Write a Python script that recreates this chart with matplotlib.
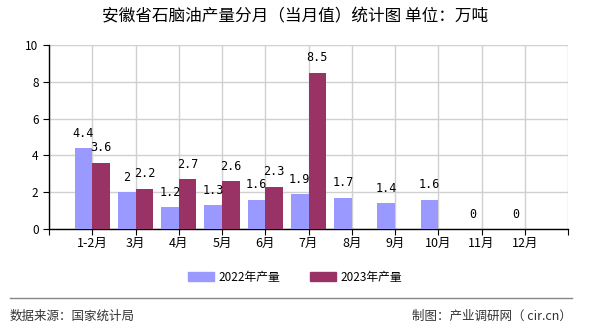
import numpy as np
import matplotlib.pyplot as plt
import matplotlib.patches as mpatches
from matplotlib.lines import Line2D

plt.rcParams['font.family'] = ['Noto Sans CJK SC', 'DejaVu Sans']

months = ['1-2月', '3月', '4月', '5月', '6月', '7月', '8月', '9月', '10月', '11月', '12月']
y2022 = [4.4, 2, 1.2, 1.3, 1.6, 1.9, 1.7, 1.4, 1.6, 0, 0]
y2023 = [3.6, 2.2, 2.7, 2.6, 2.3, 8.5, None, None, None, None, None]

fig = plt.figure(figsize=(5.9, 3.3), dpi=100)
ax = fig.add_axes([49/590, 1-229/330, (568-49)/590, (229-45)/330])

x = np.arange(1, len(months)+1)
w = 0.41
c22 = '#9999ff'
c23 = '#993366'

for xi, v in zip(x, y2022):
    ax.bar(xi - w/2, v, w, color=c22, zorder=3)
    ax.text(xi - w/2, v + 0.45, f'{v:g}', ha='center', va='bottom', fontsize=8.5,
            family='DejaVu Sans Mono', zorder=4)
for xi, v in zip(x, y2023):
    if v is None:
        continue
    ax.bar(xi + w/2, v, w, color=c23, zorder=3)
    ax.text(xi + w/2, v + 0.45, f'{v:g}', ha='center', va='bottom', fontsize=8.5,
            family='DejaVu Sans Mono', zorder=4)

ax.set_xlim(0, 12)
ax.set_ylim(0, 10)
ax.set_yticks(range(0, 11, 2))
ax.set_xticks(range(0, 13))
ax.set_xticklabels([''] + months + [''], fontsize=9)
ax.tick_params(axis='y', labelsize=8.5, length=4, width=0.8)
ax.tick_params(axis='x', length=4, width=0.8, pad=2)
ax.grid(True, color='#d0d0d0', linewidth=1, zorder=0)
for s in ['top', 'right']:
    ax.spines[s].set_visible(False)
ax.spines['left'].set_linewidth(1)
ax.spines['bottom'].set_linewidth(1)

# 标题
fig.text(0.5, 1-17/330, '安徽省石脑油产量分月（当月值）统计图 单位：万吨', ha='center', va='center',
         fontsize=12)

handles = [mpatches.Patch(color=c22), mpatches.Patch(color=c23)]
fig.legend(handles, ['2022年产量', '2023年产量'], loc='center', bbox_to_anchor=(0.5, 1-277/330),
           ncol=2, frameon=False, fontsize=8.5, handlelength=2.2, handleheight=0.7,
           columnspacing=2.5, handletextpad=0.4)

fig.add_artist(Line2D([10/590, 572/590], [1-298/330, 1-298/330], color='#888888', linewidth=1))
fig.text(10/590, 1-316/330, '数据来源：国家统计局', ha='left', va='center', fontsize=9, color='#333333')
fig.text(572/590, 1-316/330, '制图：产业调研网（ cir.cn）', ha='right', va='center', fontsize=9, color='#333333')

fig.savefig('out.png', dpi=100)
